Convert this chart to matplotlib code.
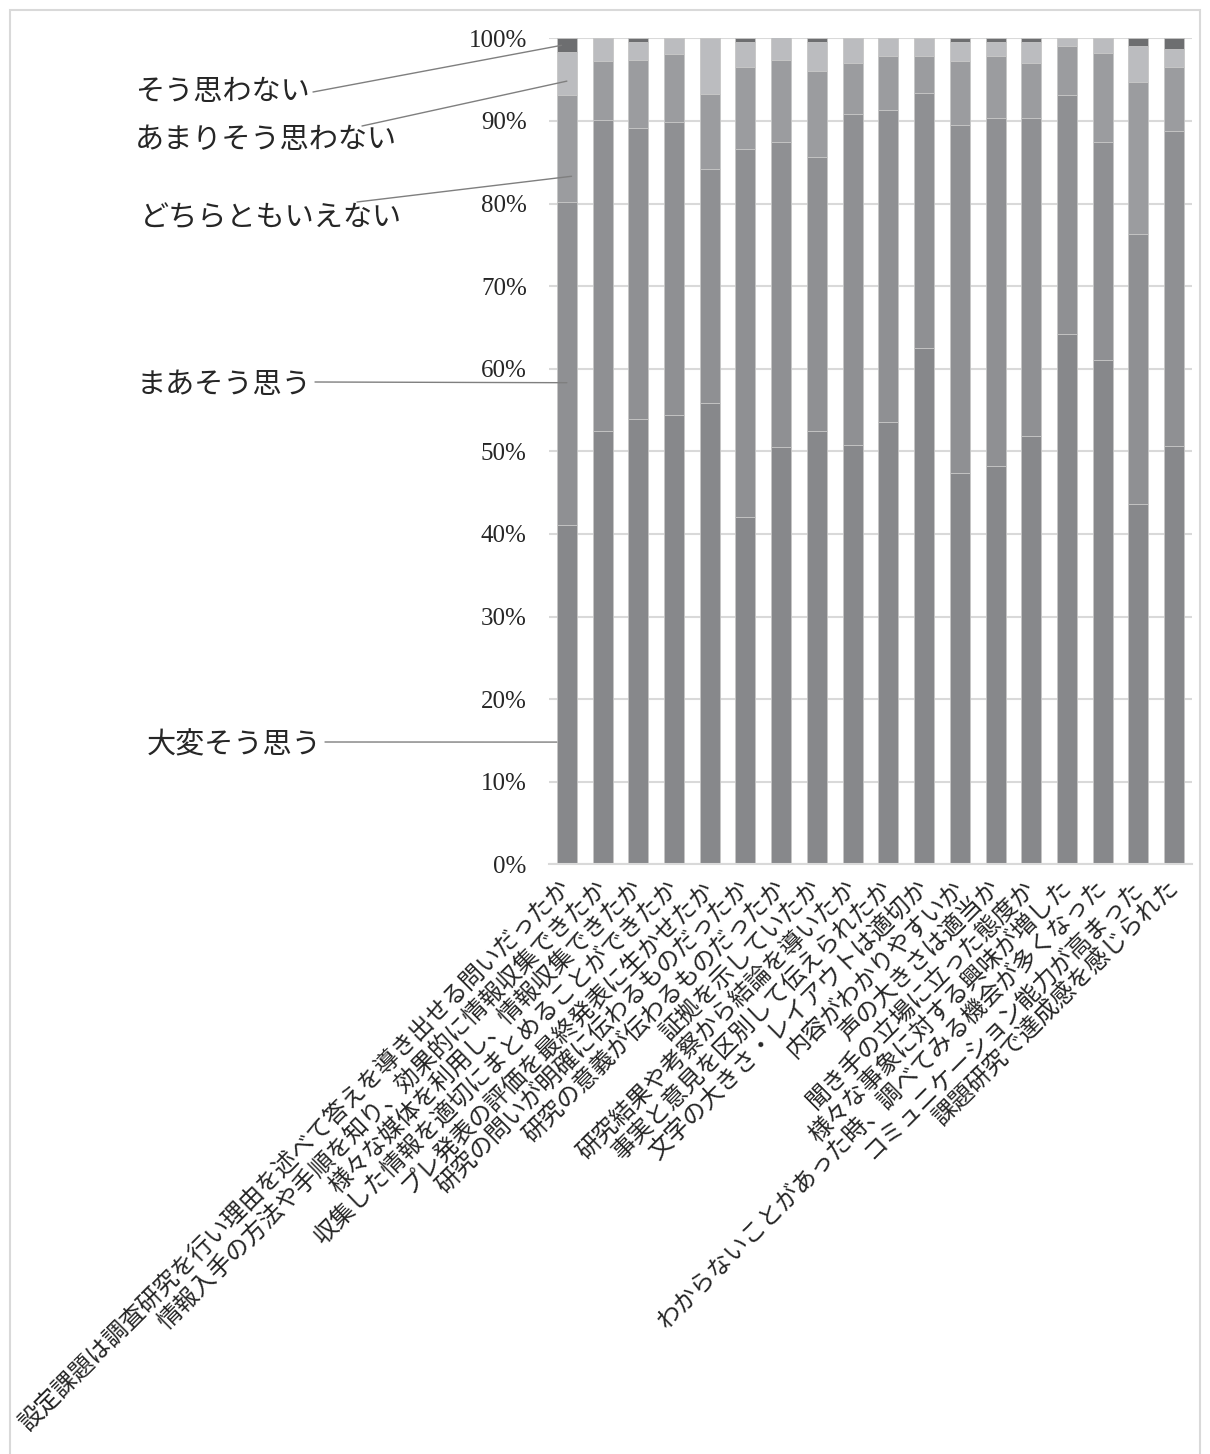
import matplotlib
matplotlib.use('Agg')
import matplotlib.pyplot as plt
from matplotlib.patches import Rectangle
import numpy as np

# 設問（横軸のカテゴリ）
categories = [
    '設定課題は調査研究を行い理由を述べて答えを導き出せる問いだったか',
    '情報入手の方法や手順を知り、効果的に情報収集できたか',
    '様々な媒体を利用し、情報収集できたか',
    '収集した情報を適切にまとめることができたか',
    'プレ発表の評価を最終発表に生かせたか',
    '研究の問いが明確に伝わるものだったか',
    '研究の意義が伝わるものだったか',
    '証拠を示していたか',
    '研究結果や考察から結論を導いたか',
    '事実と意見を区別して伝えられたか',
    '文字の大きさ・レイアウトは適切か',
    '内容がわかりやすいか',
    '声の大きさは適当か',
    '聞き手の立場に立った態度か',
    '様々な事象に対する興味が増した',
    'わからないことがあった時、調べてみる機会が多くなった',
    'コミュニケーション能力が高まった',
    '課題研究で達成感を感じられた',
]

# 回答の割合（%）
taihen = [41.1, 52.5, 53.9, 54.4, 55.8, 42.0, 50.5, 52.4, 50.8, 53.5, 62.5, 47.4, 48.2, 51.9, 64.2, 61.0, 43.6, 50.6]
maa = [39.1, 37.6, 35.3, 35.5, 28.4, 44.6, 36.9, 33.2, 40.0, 37.8, 30.9, 42.1, 42.2, 38.4, 28.9, 26.4, 32.7, 38.2]
dochira = [12.9, 7.2, 8.2, 8.2, 9.1, 9.9, 10.0, 10.4, 6.2, 6.5, 4.4, 7.8, 7.4, 6.7, 6.0, 10.8, 18.4, 7.7]
amari = [5.2, 2.7, 2.2, 1.9, 6.7, 3.1, 2.7, 3.6, 3.0, 2.2, 2.2, 2.2, 1.7, 2.5, 0.9, 1.8, 4.4, 2.2]
sou_omowanai = [1.7, 0.0, 0.4, 0.0, 0.0, 0.4, 0.0, 0.4, 0.0, 0.0, 0.0, 0.5, 0.5, 0.5, 0.0, 0.0, 0.9, 1.3]

series_names = ['大変そう思う', 'まあそう思う', 'どちらともいえない', 'あまりそう思わない', 'そう思わない']
series_values = [taihen, maa, dochira, amari, sou_omowanai]
colors = ['#87888b', '#8f9093', '#9b9c9f', '#bbbcbf', '#6d6e70']

jp_font = ['Noto Sans CJK JP', 'DejaVu Sans']
text_color = '#262626'

fig = plt.figure(figsize=(12.1, 14.54), dpi=100)
W, H = 1210, 1454
ax = fig.add_axes([549 / W, 1 - 864.3 / H, (1192 - 549) / W, (864.3 - 38.3) / H])

x = np.arange(len(categories))
bottom = np.zeros(len(categories))
for vals, col in zip(series_values, colors):
    vals = np.array(vals)
    ax.bar(x, vals, width=0.56, bottom=bottom, color=col, edgecolor='#c6c6c6', linewidth=0.6, zorder=2)
    bottom += vals

ax.set_xlim(-0.5, len(categories) - 0.5)
ax.set_ylim(0, 100)
ax.set_yticks(np.arange(0, 101, 10))
ax.set_yticklabels([f'{v}%' for v in range(0, 101, 10)], fontfamily='Liberation Serif', fontsize=18, color=text_color)
ax.tick_params(axis='y', length=0, pad=16)
ax.yaxis.grid(True, color='#d9d9d9', linewidth=1.5)
ax.set_axisbelow(True)
for s in ['top', 'right', 'left']:
    ax.spines[s].set_visible(False)
ax.spines['bottom'].set_color('#d9d9d9')
ax.spines['bottom'].set_linewidth(1.5)

ax.set_xticks(x)
ax.set_xticklabels(categories, rotation=45, ha='right', va='center', rotation_mode='anchor',
                   fontsize=17.3, family=jp_font, color=text_color)
ax.tick_params(axis='x', length=0, pad=14)

# 系列名ラベルと引き出し線（最初の棒に向ける）
label_pos = [(147, 745), (137, 385), (140, 218), (135, 140), (135, 92)]
line_start = [(325, 742), (315, 382), (357, 202), (362, 126), (313, 92)]
line_frac = [0.36, 0.44, 0.24, 0.33, 0.5]
line_dx = [-0.28, 0.0, 0.13, 0.0, -0.15]
cum = np.cumsum([v[0] for v in series_values])
lower = np.concatenate([[0], cum[:-1]])
for i, name in enumerate(series_names):
    fig.text(label_pos[i][0] / W, 1 - label_pos[i][1] / H, name, ha='left', va='center',
             fontsize=21, family=jp_font, color=text_color)
    y_end = lower[i] + line_frac[i] * (cum[i] - lower[i])
    ax.annotate('', xy=(x[0] + line_dx[i], y_end), xycoords='data',
                xytext=(line_start[i][0], H - line_start[i][1]), textcoords='figure pixels',
                arrowprops=dict(arrowstyle='-', color='#7f7f7f', lw=1.0, shrinkA=0, shrinkB=0),
                annotation_clip=False)

# グラフ全体の枠
fig.patches.append(Rectangle((10 / W, -0.01), 1190 / W, (H - 10) / H + 0.01, transform=fig.transFigure,
                             fill=False, edgecolor='#d9d9d9', linewidth=1.5))

plt.savefig('out.png', dpi=100)
